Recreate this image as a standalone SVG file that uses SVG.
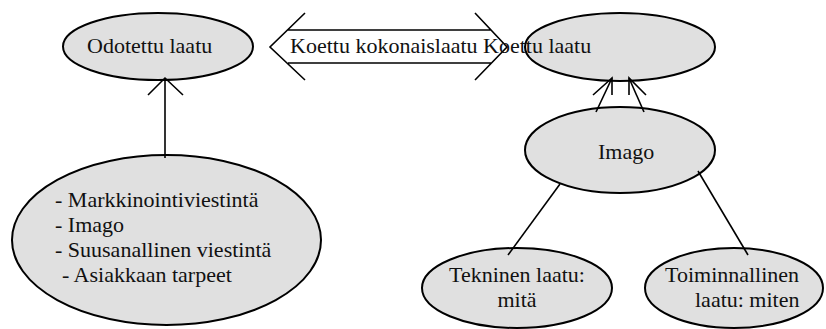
<svg xmlns="http://www.w3.org/2000/svg" width="826" height="329" viewBox="0 0 826 329">
<style>
.node ellipse{fill:#e0e0e0;stroke:#000;stroke-width:2}
text{font-family:"Liberation Serif","Times New Roman",serif;font-size:22px;fill:#111}
.conn line,.conn polyline,.conn path{stroke:#000;stroke-width:1.6;fill:none}
</style>
<rect width="826" height="329" fill="#fff"/>
<g id="odotettu" class="node">
<ellipse cx="158" cy="46.5" rx="95" ry="33.5"/>
<text x="87" y="53">Odotettu laatu</text>
</g>
<g id="tekijat" class="node">
<ellipse cx="166.5" cy="240" rx="154.5" ry="85"/>
<text x="55" y="207">- Markkinointiviestintä</text>
<text x="55" y="232">- Imago</text>
<text x="55" y="257">- Suusanallinen viestintä</text>
<text x="62" y="282">- Asiakkaan tarpeet</text>
</g>
<g id="koettu" class="node">
<ellipse cx="620" cy="47" rx="95" ry="34"/>
</g>
<g id="imago" class="node">
<ellipse cx="620" cy="150" rx="95" ry="43"/>
<text x="598" y="159">Imago</text>
</g>
<g id="tekninen" class="node">
<ellipse cx="517" cy="288" rx="95" ry="40"/>
<text x="517" y="282" text-anchor="middle">Tekninen laatu:</text>
<text x="517" y="307" text-anchor="middle">mitä</text>
</g>
<g id="toiminnallinen" class="node">
<ellipse cx="734" cy="288" rx="89" ry="40"/>
<text x="665" y="282">Toiminnallinen</text>
<text x="695" y="307">laatu: miten</text>
</g>
<g id="connectors" class="conn">
<line x1="165" y1="158" x2="165" y2="80"/>
<polyline points="148,95 165,78 183,95"/>
<path d="M305,13 L270,47 L305,80 M288,30 L491,30 M288,63 L491,63 M475,13 L507,47 L475,80"/>
<line x1="596" y1="112" x2="612" y2="78"/>
<polyline points="593,95 612,78 612,95"/>
<line x1="644" y1="112" x2="629" y2="78"/>
<polyline points="646,95 629,78 629,95"/>
<line x1="560" y1="184" x2="508" y2="255"/>
<line x1="698" y1="171" x2="748" y2="255"/>
</g>
<g id="koettu-label">
<text x="290" y="53">Koettu kokonaislaatu Koettu laatu</text>
</g>
</svg>
